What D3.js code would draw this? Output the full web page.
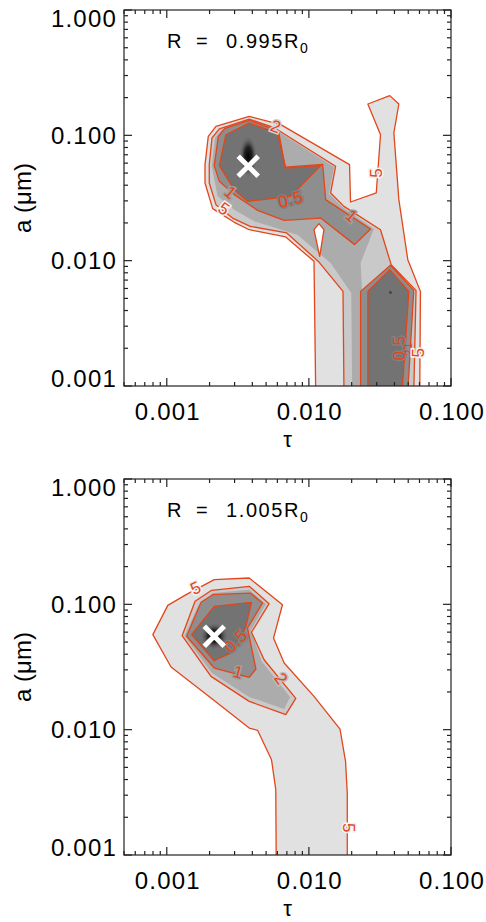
<!DOCTYPE html>
<html><head><meta charset="utf-8">
<script src="https://cdn.jsdelivr.net/npm/d3@7"></script>
<style>
body{margin:0;background:#fff}
svg{display:block}
text{font-family:"Liberation Sans",Arial,Helvetica,sans-serif}
</style>
</head><body>
<svg id="c" width="486" height="922"></svg>
<script>
// ---------- DATA (contour vertices as [log10 tau, log10 a]) ----------
const xMajor = [0.001, 0.01, 0.1];
const xTickLabels = ["0.001", "0.010", "0.100"];
const yMajor = [0.001, 0.01, 0.1, 1];
const yTickLabels = ["0.001", "0.010", "0.100", "1.000"];
const radiusLabels = ["0.995", "1.005"];
const bestFit = [[-2.427, -1.247], [-2.666, -1.255]];

// Panel 1 : R = 0.995 R0
const top5 = [[-1.952,-3.05],[-1.964,-2.005],[-2.163,-1.811],[-2.420,-1.753],[-2.525,-1.694],[-2.677,-1.585],[-2.731,-1.380],[-2.731,-1.234],[-2.708,-1.008],[-2.654,-0.928],[-2.420,-0.848],[-2.198,-0.915],[-1.714,-1.234],[-1.707,-1.532],[-1.526,-1.460],[-1.496,-0.995],[-1.585,-0.750],[-1.431,-0.683],[-1.367,-0.750],[-1.402,-0.981],[-1.367,-1.513],[-1.304,-1.992],[-1.215,-2.245],[-1.220,-3.05]];
const top5Hole = [[-1.964,-1.753],[-1.929,-1.705],[-1.894,-1.753],[-1.924,-1.966]];
const top2 = [[-1.753,-3.05],[-1.760,-2.245],[-1.929,-2.011],[-2.156,-1.779],[-2.413,-1.726],[-2.537,-1.660],[-2.654,-1.553],[-2.701,-1.380],[-2.701,-1.234],[-2.682,-1.021],[-2.630,-0.949],[-2.420,-0.870],[-2.240,-0.941],[-1.812,-1.247],[-1.847,-1.460],[-1.753,-1.567],[-1.496,-1.753],[-1.421,-2.032],[-1.246,-2.237],[-1.262,-3.05]];
const topMid = [[-2.684,-1.247],[-2.661,-1.021],[-2.614,-0.955],[-2.420,-0.880],[-2.230,-0.960],[-1.823,-1.253],[-1.859,-1.466],[-1.758,-1.577],[-1.543,-1.747],[-1.636,-2.019],[-1.590,-3.05],[-1.695,-3.05],[-1.702,-2.258],[-1.847,-2.019],[-2.081,-1.793],[-2.385,-1.686],[-2.525,-1.593],[-2.642,-1.487]];
const top1 = [[-2.666,-1.242],[-2.637,-1.008],[-2.591,-0.944],[-2.420,-0.880],[-2.214,-0.965],[-2.167,-1.253],[-1.903,-1.231],[-1.882,-1.513],[-1.566,-1.747],[-1.678,-1.872],[-1.917,-1.660],[-2.174,-1.678],[-2.361,-1.599],[-2.525,-1.473],[-2.630,-1.367]];
const top1Pocket = [[-1.636,-2.245],[-1.426,-2.037],[-1.262,-2.237],[-1.304,-3.05],[-1.636,-3.05]];
const top05 = [[-2.630,-1.242],[-2.584,-0.995],[-2.420,-0.902],[-2.221,-0.981],[-2.163,-1.261],[-1.917,-1.242],[-2.128,-1.487],[-2.432,-1.527],[-2.525,-1.434]];
const top05Pocket = [[-1.585,-2.245],[-1.431,-2.072],[-1.297,-2.245],[-1.344,-3.05],[-1.585,-3.05]];
const topLocalMin = [[-2.427,-1.168],[-1.426,-2.253]];
const topLabels = [["2",-2.233,-0.931],["5",-2.598,-1.588],["1",-2.553,-1.458],["0.5",-2.128,-1.513],["5",-1.524,-1.298],["1",-1.702,-1.646],["0.5",-1.360,-2.697],["1",-1.300,-2.678],["2",-1.293,-2.734],["5",-1.229,-2.732]];

// Panel 2 : R = 1.005 R0
const bot5 = [[-3.098,-1.242],[-2.993,-1.008],[-2.864,-0.923],[-2.666,-0.803],[-2.420,-0.790],[-2.186,-1.003],[-2.249,-1.269],[-2.174,-1.468],[-1.964,-1.734],[-1.781,-1.995],[-1.742,-2.253],[-1.730,-2.506],[-1.730,-3.05],[-2.230,-3.05],[-2.233,-2.479],[-2.263,-2.240],[-2.361,-2.005],[-2.420,-1.987],[-2.689,-1.747],[-2.970,-1.500]];
const bot2 = [[-2.892,-1.250],[-2.801,-0.976],[-2.684,-0.888],[-2.420,-0.856],[-2.280,-0.995],[-2.404,-1.223],[-2.315,-1.442],[-2.092,-1.750],[-2.163,-1.880],[-2.420,-1.774],[-2.689,-1.575]];
const botMid = [[-2.876,-1.250],[-2.778,-1.011],[-2.675,-0.910],[-2.420,-0.883],[-2.303,-0.997],[-2.408,-1.207],[-2.333,-1.455],[-2.132,-1.739],[-2.174,-1.835],[-2.420,-1.739],[-2.682,-1.548]];
const bot1 = [[-2.860,-1.255],[-2.759,-0.984],[-2.677,-0.923],[-2.413,-0.910],[-2.326,-0.989],[-2.432,-1.189],[-2.373,-1.516],[-2.420,-1.583],[-2.666,-1.508]];
const bot05 = [[-2.825,-1.242],[-2.666,-1.016],[-2.404,-0.984],[-2.443,-1.176],[-2.525,-1.375],[-2.666,-1.450]];
const botLocalMin = [[-2.666,-1.255]];
const botLabels = [["5",-2.794,-0.870],["0.5",-2.513,-1.295],["1",-2.497,-1.543],["2",-2.198,-1.596],["5",-1.723,-2.785]];

// ---------- STYLE ----------
const lineCol = "#e2461a";
const shade = {c5:"#e1e1e1", c2:"#c9c9c9", mid:"#acacac", c1:"#8e8e8e", c05:"#737373"};
const topLabelStyle = [[20,"#d5d5d5",17],[35,"#f2f2f2",17],[40,"#a0a0a0",17],[-15,"#808080",17],[-90,"#f2f2f2",17],[40,"#a0a0a0",17],[-90,"#808080",17],[-90,null,10],[-90,null,10],[-90,"#f2f2f2",17]];
const botLabelStyle = [[-25,"#f2f2f2",17],[-45,"#808080",17],[15,"#a0a0a0",17],[55,"#bdbdbd",17],[90,"#f2f2f2",17]];

const panels = [
  {y0:10, y1:386, fills:[[top5,shade.c5],[top2,shade.c2],[topMid,shade.mid],[top1,shade.c1],[top1Pocket,shade.c1],[top05,shade.c05],[top05Pocket,shade.c05]],
   holes:[top5Hole], lines:[top5,top2,top1,top1Pocket,top05,top05Pocket,top5Hole], mins:topLocalMin, labels:topLabels, lstyle:topLabelStyle},
  {y0:479, y1:855, fills:[[bot5,shade.c5],[bot2,shade.c2],[botMid,shade.mid],[bot1,shade.c1],[bot05,shade.c05]],
   holes:[], lines:[bot5,bot2,bot1,bot05], mins:botLocalMin, labels:botLabels, lstyle:botLabelStyle}
];

const svg = d3.select("#c");
const defs = svg.append("defs");
const rg = defs.append("radialGradient").attr("id","minGrad");
rg.append("stop").attr("offset","0%").attr("stop-color","#000").attr("stop-opacity",1);
rg.append("stop").attr("offset","45%").attr("stop-color","#151515").attr("stop-opacity",0.85);
rg.append("stop").attr("offset","100%").attr("stop-color","#737373").attr("stop-opacity",0);

const XL = 124, XR = 451;
const x = d3.scaleLog().domain([5e-4, 0.1]).range([XL, XR]);

panels.forEach((p, i) => {
  const y = d3.scaleLog().domain([1e-3, 1]).range([p.y1, p.y0]);
  const path = d3.line().x(d => x(10 ** d[0])).y(d => y(10 ** d[1])).curve(d3.curveLinearClosed);
  defs.append("clipPath").attr("id","clip"+i).append("rect")
    .attr("x",XL).attr("y",p.y0).attr("width",XR-XL).attr("height",p.y1-p.y0);
  const g = svg.append("g").attr("clip-path",`url(#clip${i})`);

  p.fills.forEach(([poly,col]) => g.append("path").attr("d",path(poly)).attr("fill",col));
  p.mins.forEach((m, k) => {
    if (i === 0 && k === 1) {
      g.append("circle").attr("cx",x(10**m[0])).attr("cy",y(10**m[1])).attr("r",1.6).attr("fill","#4a4a4a");
    } else if (i === 0) {
      g.append("ellipse").attr("cx",x(10**m[0])).attr("cy",y(10**m[1])).attr("rx",9).attr("ry",21).attr("fill","url(#minGrad)");
    } else {
      g.append("circle").attr("cx",x(10**m[0])).attr("cy",y(10**m[1])).attr("r",14).attr("fill","url(#minGrad)");
    }
  });
  p.holes.forEach(poly => g.append("path").attr("d",path(poly)).attr("fill","#fff"));
  p.lines.forEach(poly => g.append("path").attr("d",path(poly)).attr("fill","none")
    .attr("stroke",lineCol).attr("stroke-width",1.3).attr("stroke-linejoin","round"));

  p.labels.forEach(([t,lt,la], k) => {
    const [rot,bg,fs] = p.lstyle[k];
    const tx = g.append("text").attr("transform",`translate(${x(10**lt)},${y(10**la)}) rotate(${rot})`)
      .attr("text-anchor","middle").attr("dominant-baseline","central")
      .attr("font-size",fs).attr("letter-spacing", fs > 12 ? "0.5px" : "0px")
      .attr("fill",lineCol).text(t);
    if (bg) tx.attr("stroke",bg).attr("stroke-width",3).attr("paint-order","stroke");
  });

  const [bx,by] = [x(10**bestFit[i][0]), y(10**bestFit[i][1])];
  const s = 10;
  g.append("path").attr("d",`M${bx-s},${by-s}L${bx+s},${by+s}M${bx-s},${by+s}L${bx+s},${by-s}`)
    .attr("stroke","#fff").attr("stroke-width",5).attr("fill","none");

  const ax = svg.append("g").attr("stroke","#222").attr("stroke-width",1.2).attr("fill","none");
  ax.append("rect").attr("x",XL).attr("y",p.y0).attr("width",XR-XL).attr("height",p.y1-p.y0);
  const isMaj = (v, arr) => arr.some(m => Math.abs(Math.log10(v) - Math.log10(m)) < 1e-6);
  x.ticks().forEach(v => {
    const L = isMaj(v, xMajor) ? 8 : 4, px = x(v);
    ax.append("line").attr("x1",px).attr("x2",px).attr("y1",p.y1).attr("y2",p.y1-L);
    ax.append("line").attr("x1",px).attr("x2",px).attr("y1",p.y0).attr("y2",p.y0+L);
  });
  y.ticks().forEach(v => {
    const L = isMaj(v, yMajor) ? 8 : 4, py = y(v);
    ax.append("line").attr("y1",py).attr("y2",py).attr("x1",XL).attr("x2",XL+L);
    ax.append("line").attr("y1",py).attr("y2",py).attr("x1",XR).attr("x2",XR-L);
  });

  const tl = svg.append("g").attr("font-size",24).attr("fill","#000").attr("letter-spacing","1.2px");
  yMajor.forEach((v, k) => {
    const py = Math.max(p.y0 + 8, Math.min(p.y1 - 8, y(v)));
    tl.append("text").attr("x",117).attr("y",py).attr("text-anchor","end")
      .attr("dominant-baseline","central").text(yTickLabels[k]);
  });
  xMajor.forEach((v, k) => {
    tl.append("text").attr("x",x(v)+1).attr("y",p.y1+25).attr("text-anchor","middle")
      .attr("dominant-baseline","central").text(xTickLabels[k]);
  });
  svg.append("text").attr("x",(XL+XR)/2).attr("y",p.y1+61).attr("text-anchor","middle")
    .attr("font-size",22).text("τ");
  svg.append("text").attr("transform",`translate(22,${(p.y0+p.y1)/2}) rotate(-90)`)
    .attr("text-anchor","middle").attr("dominant-baseline","central").attr("font-size",24).text("a (μm)");

  const ann = svg.append("text").attr("y",p.y0+38).attr("font-size",20).attr("fill","#000");
  ann.append("tspan").attr("x",167).text("R");
  ann.append("tspan").attr("x",196).text("=");
  ann.append("tspan").attr("x",226).attr("letter-spacing","1.6px").text(radiusLabels[i] + "R");
  ann.append("tspan").attr("dy",5).attr("font-size",14).text("0");
});
</script>
</body></html>
